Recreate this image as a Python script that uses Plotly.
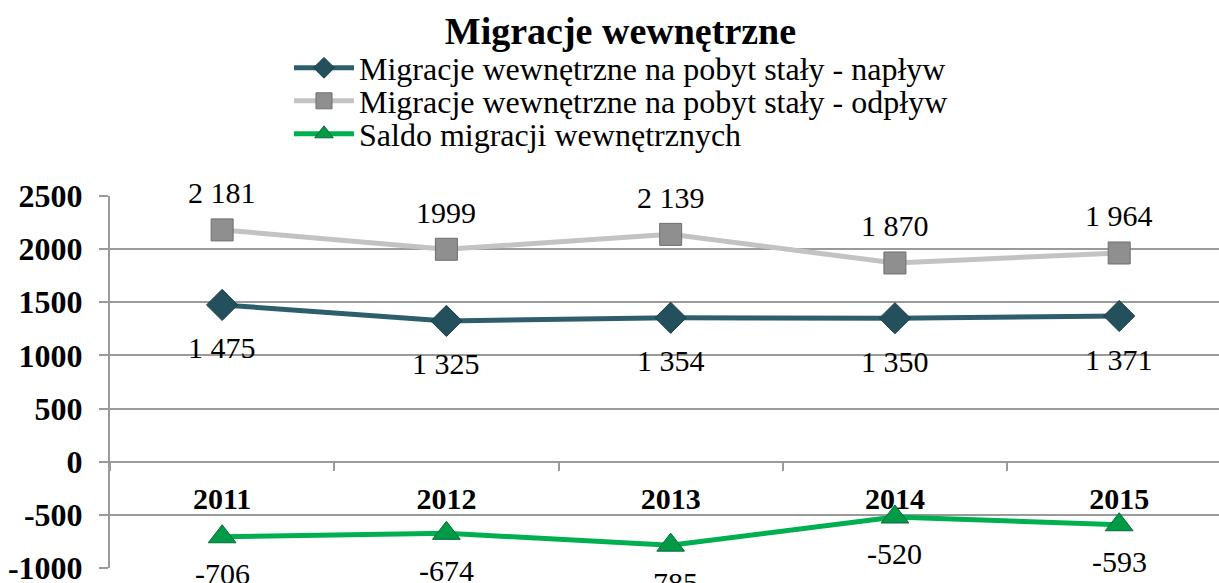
import plotly.graph_objects as go

years = ["2011", "2012", "2013", "2014", "2015"]
naplyw = [1475, 1325, 1354, 1350, 1371]
odplyw = [2181, 1999, 2139, 1870, 1964]
saldo = [-706, -674, -785, -520, -593]
naplyw_labels = ["1 475", "1 325", "1 354", "1 350", "1 371"]
odplyw_labels = ["2 181", "1999", "2 139", "1 870", "1 964"]
saldo_labels = ["-706", "-674", "-785", "-520", "-593"]
y_ticks = [-1000, -500, 0, 500, 1000, 1500, 2000, 2500]

names = [
    "Migracje wewnętrzne na pobyt stały - napływ",
    "Migracje wewnętrzne na pobyt stały - odpływ",
    "Saldo migracji wewnętrznych",
]

FONT = "'Liberation Serif', 'Times New Roman', Times, serif"
GRID = "#9A9A9A"

fig = go.Figure()
fig.add_trace(go.Scatter(
    x=years, y=naplyw, name=names[0], mode="lines+markers", legend="legend2",
    line=dict(color="#2E5E6C", width=5),
    marker=dict(symbol="diamond", size=24, color="#24505E",
                line=dict(color="#1A3D48", width=1)),
))
fig.add_trace(go.Scatter(
    x=years, y=odplyw, name=names[1], mode="lines+markers", legend="legend3",
    line=dict(color="#C3C3C3", width=5),
    marker=dict(symbol="square", size=22, color="#8F8F8F",
                line=dict(color="#6E6E6E", width=1)),
))
fig.add_trace(go.Scatter(
    x=years, y=saldo, name=names[2], mode="lines+markers", legend="legend4",
    line=dict(color="#00B050", width=5),
    marker=dict(symbol="triangle-up", size=24, color="#009A48",
                line=dict(color="#006B32", width=1)),
))

annotations = []
for i in range(len(years)):
    annotations.append(dict(x=i, y=odplyw[i], xref="x", yref="y", text=odplyw_labels[i],
                            showarrow=False, yshift=37, font=dict(family=FONT, size=30, color="black")))
    annotations.append(dict(x=i, y=naplyw[i], xref="x", yref="y", text=naplyw_labels[i],
                            showarrow=False, yshift=-43, font=dict(family=FONT, size=30, color="black")))
    annotations.append(dict(x=i, y=saldo[i], xref="x", yref="y", text=saldo_labels[i],
                            showarrow=False, yshift=-37, font=dict(family=FONT, size=30, color="black")))

ymin, ymax = -1000, 2500
plot_top, plot_bot = 196, 568


def row_y(px):
    return (plot_bot - px) / (plot_bot - plot_top)


def legend_at(px):
    return dict(x=0.1614, xanchor="left", y=row_y(px), yanchor="middle",
                font=dict(family=FONT, size=32, color="black"),
                itemwidth=60, bgcolor="rgba(0,0,0,0)", borderwidth=0)


fig.update_layout(
    width=1219, height=583,
    margin=dict(l=110, r=0, t=plot_top, b=583 - plot_bot, autoexpand=False),
    paper_bgcolor="white", plot_bgcolor="white",
    showlegend=True,
    title=dict(text="<b>Migracje wewnętrzne</b>", x=0.509, xanchor="center",
               y=0.948, yanchor="middle", font=dict(family=FONT, size=38, color="black")),
    legend2=legend_at(68),
    legend3=legend_at(101),
    legend4=legend_at(134),
    annotations=annotations,
    xaxis=dict(
        type="category", categoryorder="array", categoryarray=years,
        range=[-0.5, 4.445], anchor="free", position=(0 - ymin) / (ymax - ymin),
        showline=True, linecolor=GRID, linewidth=2,
        ticks="outside", tickson="boundaries", ticklen=8, tickwidth=2, tickcolor=GRID,
        showgrid=False, zeroline=False, ticklabelstandoff=10, automargin=False,
        tickprefix="<b>", ticksuffix="</b>",
        tickfont=dict(family=FONT, size=30, color="black"),
    ),
    yaxis=dict(
        range=[ymin, ymax], tickvals=y_ticks, ticktext=["<b>%d</b>" % v for v in y_ticks],
        showline=True, linecolor=GRID, linewidth=2,
        ticks="outside", ticklen=9, tickwidth=2, tickcolor=GRID,
        showgrid=True, gridcolor=GRID, gridwidth=2, zeroline=False,
        ticklabelstandoff=10, automargin=False, ticklabeloverflow="allow",
        tickfont=dict(family=FONT, size=32, color="black"),
    ),
)

fig.write_html("out.html", config={"displayModeBar": False},
               post_script="document.body.style.margin='0';")
